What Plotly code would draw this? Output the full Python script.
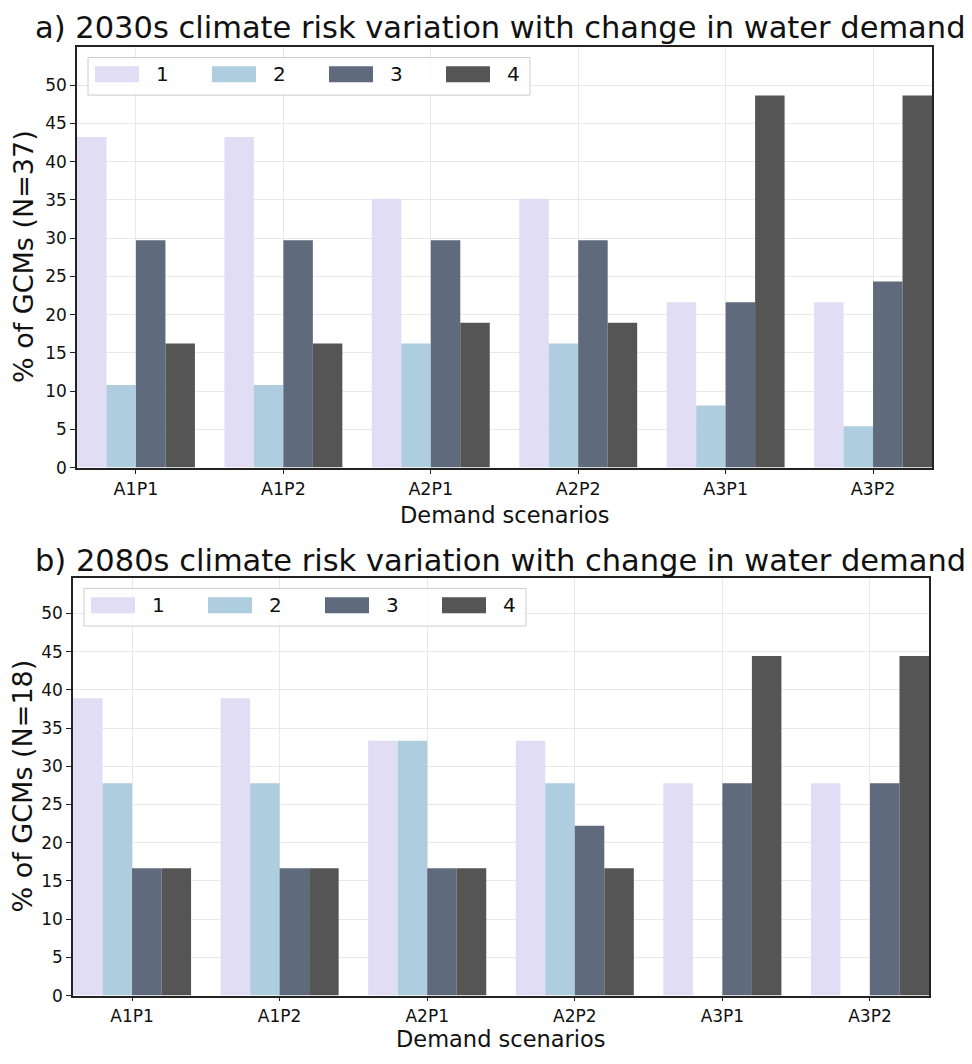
import plotly.graph_objects as go

scenarios = ["A1P1", "A1P2", "A2P1", "A2P2", "A3P1", "A3P2"]
risk_levels = ["1", "2", "3", "4"]

# 2030s, N=37 (% of GCMs)
a_r1 = [43.24, 43.24, 35.14, 35.14, 21.62, 21.62]
a_r2 = [10.81, 10.81, 16.22, 16.22, 8.11, 5.41]
a_r3 = [29.73, 29.73, 29.73, 29.73, 21.62, 24.32]
a_r4 = [16.22, 16.22, 18.92, 18.92, 48.65, 48.65]

# 2080s, N=18 (% of GCMs)
b_r1 = [38.89, 38.89, 33.33, 33.33, 27.78, 27.78]
b_r2 = [27.78, 27.78, 33.33, 27.78, 0.0, 0.0]
b_r3 = [16.67, 16.67, 16.67, 22.22, 27.78, 27.78]
b_r4 = [16.67, 16.67, 16.67, 16.67, 44.44, 44.44]

yticks = [0, 5, 10, 15, 20, 25, 30, 35, 40, 45, 50]

colors = ["#E0DDF5", "#AECEE0", "#5F6A7C", "#555555"]

W, H = 972, 1064
def px(x):
    return x / W
def py(y):
    return 1 - y / H

fig = go.Figure()

for series, xa, ya in [([a_r1, a_r2, a_r3, a_r4], "x", "y"),
                       ([b_r1, b_r2, b_r3, b_r4], "x2", "y2")]:
    for name, vals, col in zip(risk_levels, series, colors):
        fig.add_trace(go.Bar(
            x=scenarios, y=vals, name=name, marker_color=col,
            marker_line_width=0, xaxis=xa, yaxis=ya, showlegend=False,
            offsetgroup=name,
        ))

font_family = "DejaVu Sans"
axis_common = dict(
    showline=True, linecolor="#222222", linewidth=1.5, mirror=True,
    ticks="outside", tickcolor="#222222",
    showgrid=True, gridcolor="#E8E8E8", gridwidth=1,
    zeroline=False,
)
xfont = dict(family=font_family, size=17.5, color="#111111")
yfont = dict(family=font_family, size=17, color="#111111")

fig.update_layout(
    width=W, height=H,
    margin=dict(l=0, r=0, t=0, b=0),
    paper_bgcolor="white", plot_bgcolor="white",
    barmode="group", bargap=0.2, bargroupgap=0,
    font=dict(family=font_family, color="#111111"),
    xaxis=dict(domain=[px(77), px(932)], anchor="y", range=[-0.4, 5.4],
               tickfont=xfont, ticklen=5, **axis_common),
    yaxis=dict(domain=[py(472), py(47)], anchor="x", range=[0, 55.05],
               tickvals=yticks, tickfont=yfont, ticklen=5, **axis_common),
    xaxis2=dict(domain=[px(73), px(929)], anchor="y2", range=[-0.4, 5.4],
                tickfont=dict(family=font_family, size=17, color="#111111"),
                ticklen=4, **axis_common),
    yaxis2=dict(domain=[py(1005), py(583)], anchor="x2", range=[0, 54.7],
                tickvals=yticks, tickfont=yfont, ticklen=5, **axis_common),
)

annotations = []
shapes = []

def panel_text(title, ytitle, top, bottom, left, right, title_y, xt_y, xt_anchor):
    cx = (left + right) / 2
    annotations.append(dict(text=title, x=px(500), y=py(title_y), xref="paper", yref="paper",
                            showarrow=False, xanchor="center", yanchor="middle",
                            font=dict(size=30.5, family=font_family, color="#111111")))
    annotations.append(dict(text=ytitle, x=px(23), y=py((top + bottom) / 2), xref="paper", yref="paper",
                            showarrow=False, textangle=-90, xanchor="center", yanchor="middle",
                            font=dict(size=27, family=font_family, color="#111111")))
    annotations.append(dict(text="Demand scenarios", x=px(cx), y=py(xt_y), xref="paper", yref="paper",
                            showarrow=False, xanchor="center", yanchor=xt_anchor,
                            font=dict(size=22.5, family=font_family, color="#111111")))
    # legend box
    bx0 = left + 11
    shapes.append(dict(type="rect", xref="paper", yref="paper",
                       x0=px(bx0), x1=px(bx0 + 442), y0=py(top + 11), y1=py(top + 49),
                       line=dict(color="#CCCCCC", width=1), fillcolor="rgba(255,255,255,0.8)",
                       layer="above"))
    for i, (name, col) in enumerate(zip(risk_levels, colors)):
        sx = left + 18 + i * 117
        shapes.append(dict(type="rect", xref="paper", yref="paper",
                           x0=px(sx), x1=px(sx + 44), y0=py(top + 20), y1=py(top + 36),
                           line=dict(width=0), fillcolor=col, layer="above"))
        annotations.append(dict(text=name, x=px(sx + 67), y=py(top + 28), xref="paper", yref="paper",
                                showarrow=False, xanchor="center", yanchor="middle",
                                font=dict(size=20, family=font_family, color="#111111")))

panel_text("a) 2030s climate risk variation with change in water demand", "% of GCMs (N=37)",
           47, 472, 77, 932, 28, 520, "middle")
panel_text("b) 2080s climate risk variation with change in water demand", "% of GCMs (N=18)",
           583, 1005, 73, 929, 566, 1064, "bottom")

fig.update_layout(annotations=annotations, shapes=shapes)

fig.write_html("out.html",
               config={"displayModeBar": False},
               post_script="document.body.style.margin='0';document.body.style.overflow='hidden';")
